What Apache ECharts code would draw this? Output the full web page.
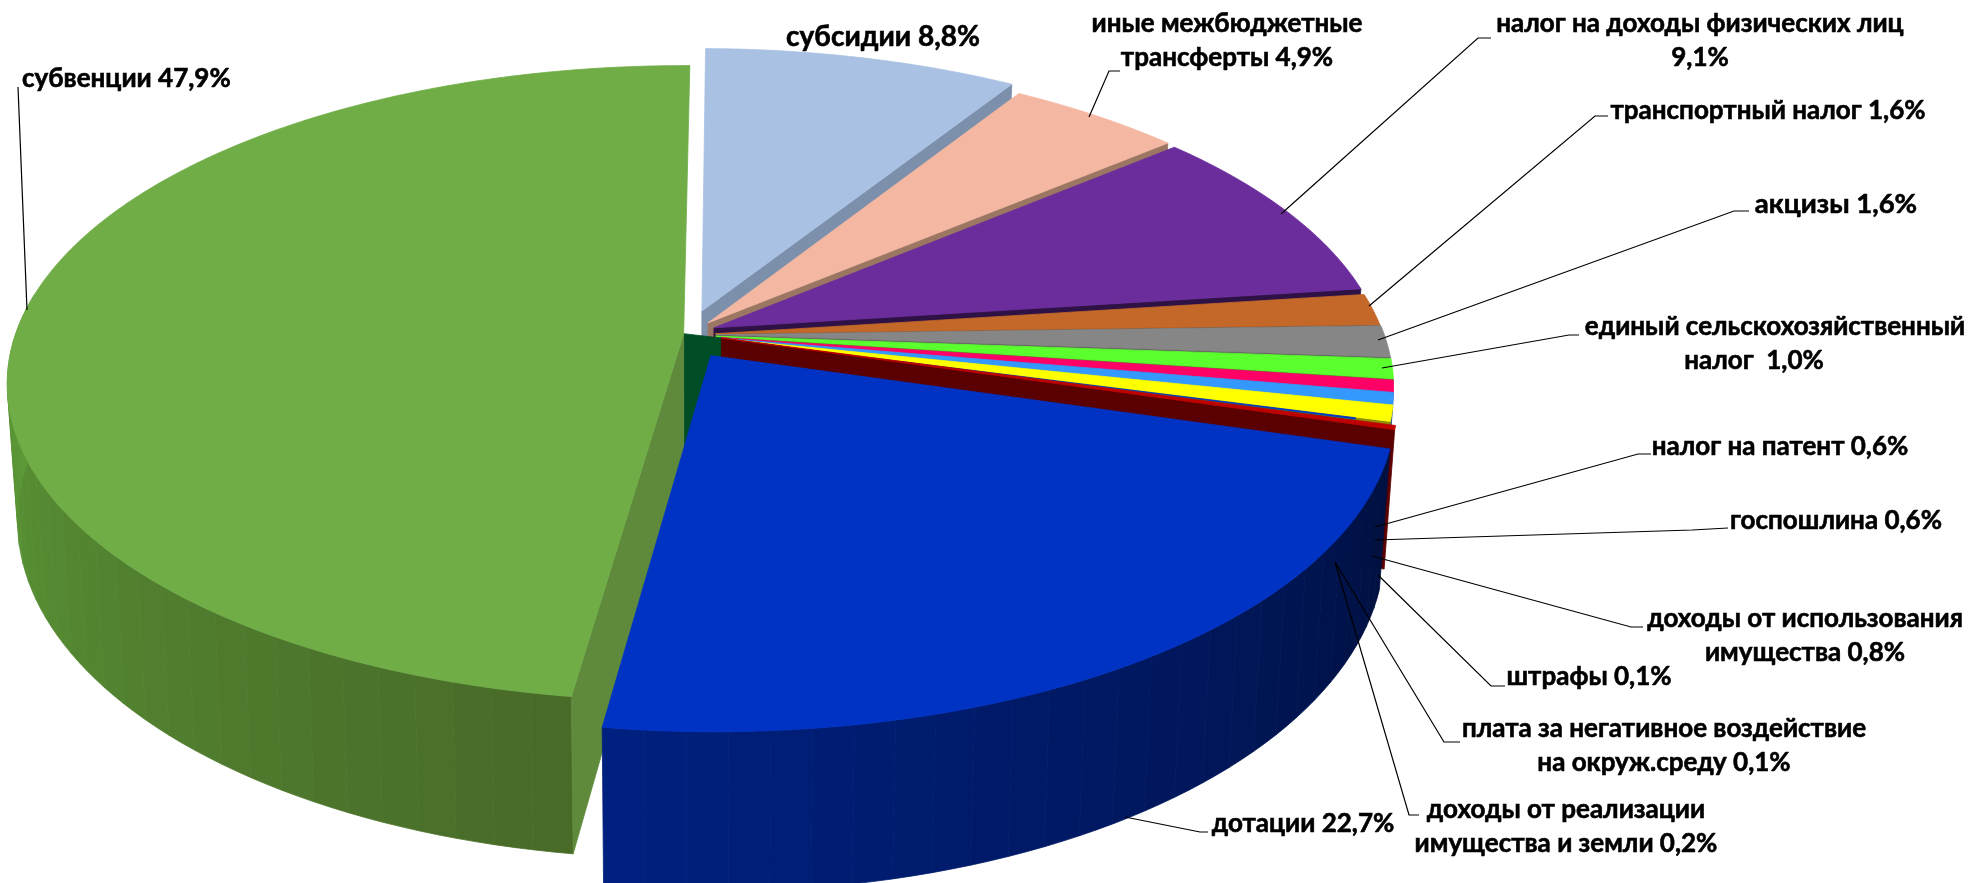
<!DOCTYPE html>
<html><head><meta charset="utf-8">
<style>html,body{margin:0;padding:0;background:#fff}#c{width:1973px;height:883px}</style>
<script src="https://cdn.jsdelivr.net/npm/echarts@6/dist/echarts.min.js"></script>
</head><body><div id="c"></div>
<script>
// ---- data (clockwise from 12 o'clock) ----
const categories = ['субсидии','иные межбюджетные\nтрансферты','налог на доходы физических лиц\n','транспортный налог','акцизы','единый сельскохозяйственный\nналог ','налог на патент','госпошлина','доходы от использования\nимущества','штрафы','плата за негативное воздействие\nна окруж.среду','доходы от реализации\nимущества и земли','дотации','субвенции'];
const values = [8.8,4.9,9.1,1.6,1.6,1.0,0.6,0.6,0.8,0.1,0.1,0.2,22.7,47.9];
// ---- styles ----
const topColors  = ['#A9C2E3','#F4B8A2','#6B2C9C','#C4682A','#868686','#5CFF2E','#FF0066','#3399FF','#FFFF00','#0033CC','#00A650','#C00000','#0033C4','#70AD47'];
const edgeColors = ['#7C90AC','#9B7662','#2E1245','#6B3A15','#5A5A5A','#3FA81F','#A00040','#1F6099','#8F8A00','#001B70','#006030','#5A0000',null,'#5F8A3C'];
const wallRamps  = {12:['#001040','#00207F'],13:['#486B28','#5D9C38']};
const offU = [.015,.024,.033,.035,.036,.036,.035,.035,.035,.035,.035,.044,.028,-.0125];
const offV = [-.075,-.036,-.020,-.001,.002,.007,.011,.012,.013,.015,.015,.013,.069,-.001];
const radii = [1,1,1,1,1,1,1,1,1,.95,.95,1,1,1];
// ---- projection ----
const P = {cx:692, cy:334, A:668, B:310, k:.156, H:133, f:.985, rot:.5};
function proj(u,v,low){const s=1/(1-P.k*v);
  return low?[P.cx+P.A*P.f*u*s, P.cy+(P.B*v+P.H)*s]:[P.cx+P.A*u*s, P.cy+P.B*v*s];}
function rim(i,deg,low){const a=(deg+P.rot)*Math.PI/180;
  return proj(offU[i]+radii[i]*Math.sin(a),offV[i]-radii[i]*Math.cos(a),low);}
function apex(i,low){return proj(offU[i],offV[i],low);}
// cumulative angles
const starts=[],ends=[];let acc=0;const tot=values.reduce((a,b)=>a+b,0);
values.forEach((v,i)=>{starts[i]=acc/tot*360;acc+=v;ends[i]=acc/tot*360;});
function hex(c){return [1,3,5].map(j=>parseInt(c.substr(j,2),16));}
function mix(a,b,t){const x=hex(a),y=hex(b);return 'rgb('+x.map((q,j)=>Math.round(q+(y[j]-q)*t)).join(',')+')';}
function poly(points,fill){return {type:'polygon',shape:{points},style:{fill,stroke:fill,lineWidth:.8}};}

function renderSlice(params,api){
  const i=api.value(0);const a0=starts[i],a1=ends[i];const ch=[];
  if(wallRamps[i]){
    const stop=Math.min(a1,277),n=Math.max(1,Math.round((stop-a0)/3));
    for(let j=0;j<n;j++){const t0=a0+(stop-a0)*j/n,t1=a0+(stop-a0)*(j+1)/n;
      const pts=[rim(i,t0,false),rim(i,(t0+t1)/2,false),rim(i,t1,false),rim(i,t1,true),rim(i,(t0+t1)/2,true),rim(i,t0,true)];
      ch.push(poly(pts,mix(wallRamps[i][0],wallRamps[i][1],j/(n-1))));}
  }
  if(edgeColors[i]){
    const e=i===13?a0:a1;
    ch.push(poly([apex(i,false),rim(i,e,false),rim(i,e,true),apex(i,true)],edgeColors[i]));
  }
  const pts=[apex(i,false)];const n=Math.max(4,Math.round((a1-a0)*1.5));
  for(let j=0;j<=n;j++)pts.push(rim(i,a0+(a1-a0)*j/n,false));
  ch.push(poly(pts,topColors[i]));
  return {type:'group',children:ch};
}
function renderColumn(){ // dark core visible between exploded slices
  return poly([apex(13,false),apex(11,false),apex(11,true),apex(13,true)],'#004D26');
}
// ---- label layout: text anchor, leader path ----
const FS=26;
const labelLayout=[
 {x:883,y:37,a:'center',fs:28,lead:null},
 {x:1227,y:24,a:'center',lead:[[1120,71],[1109,71],[1089,117]]},
 {x:1700,y:24,a:'center',lead:[[1491,38],[1478,38],[1281,214]]},
 {x:1768,y:111,a:'center',lead:[[1608,116],[1595,116],[1369,306]]},
 {x:1836,y:204,a:'center',fs:27.5,lead:[[1749,211],[1734,211],[1378,340]]},
 {x:1775,y:327,a:'center',dx2:-21,lead:[[1579,335],[1569,335],[1382,368]]},
 {x:1780,y:447,a:'center',lead:[[1651,454],[1638,454],[1375,527]]},
 {x:1836,y:521,a:'center',lead:[[1728,528],[1692,530],[1375,540]]},
 {x:1805,y:619,a:'center',lead:[[1643,627],[1631,627],[1372,556]]},
 {x:1589,y:677,a:'center',lead:[[1505,686],[1491,686],[1378,575]]},
 {x:1664,y:729,a:'center',lead:[[1460,742],[1444,742],[1335,562]]},
 {x:1566,y:810,a:'center',lead:[[1419,815],[1409,815],[1335,562]]},
 {x:1303,y:824,a:'center',lead:[[1208,832],[1200,832],[1125,817]]},
 {x:22,y:79,a:'left',lead:[[18,87],[27,310]]}
];
const LH=34;
function labelText(i){return categories[i]+(categories[i].endsWith('\n')?'':' ')+values[i].toFixed(1).replace('.',',')+'%';}
function renderLabel(params,api){
  const i=api.value(0),L=labelLayout[i],ch=[];
  if(L.lead)ch.push({type:'polyline',shape:{points:L.lead},style:{stroke:'#000',lineWidth:1.2,fill:null}});
  labelText(i).split('\n').forEach((t,j)=>ch.push({type:'text',style:{text:t,x:L.x+(j?(L.dx2||0):0),y:L.y+j*LH,align:L.a,verticalAlign:'middle',fill:'#000',stroke:'#000',lineWidth:.6,font:'bold '+(L.fs||FS)+'px Lato, "Open Sans", sans-serif'}}));
  return {type:'group',children:ch};
}
const backOrder=[0,1,2,3,4,5,6,7,8,9,10];
const chart=echarts.init(document.getElementById('c'),null,{renderer:'canvas'});
chart.setOption({
  animation:false,backgroundColor:'#fff',
  series:[
   {type:'custom',coordinateSystem:'none',silent:true,z:1,renderItem:renderSlice,data:backOrder.map(i=>[i,values[i]])},
   {type:'custom',coordinateSystem:'none',silent:true,z:2,renderItem:renderColumn,data:[[0]]},
   {type:'custom',coordinateSystem:'none',silent:true,z:3,renderItem:renderSlice,data:[11,13,12].map(i=>[i,values[i]])},
   {type:'custom',coordinateSystem:'none',silent:true,z:4,renderItem:renderLabel,data:values.map((v,i)=>[i,v])}
  ]
});
</script></body></html>
